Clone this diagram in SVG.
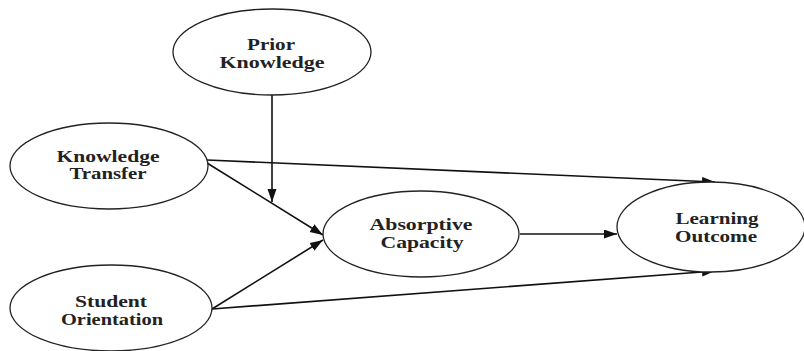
<svg xmlns="http://www.w3.org/2000/svg" width="804" height="351" viewBox="0 0 804 351">
<style>
.n{fill:#fff;stroke:#222;stroke-width:1.3}
.t{font-family:"Liberation Serif","Times New Roman",serif;font-weight:bold;font-size:16px;fill:#222;text-anchor:middle}
.c{stroke:#111;stroke-width:1.6;fill:none;marker-end:url(#ah)}
</style>
<defs>
<marker id="ah" markerUnits="userSpaceOnUse" markerWidth="14" markerHeight="10" refX="13" refY="4.5" orient="auto">
<path d="M0,0 L13,4.5 L0,9 z" fill="#111"/>
</marker>
</defs>
<rect width="804" height="351" fill="#fff"/>
<g id="connectors">
<line class="c" x1="272" y1="95" x2="272" y2="202"/>
<line class="c" x1="207" y1="163" x2="323" y2="235"/>
<line class="c" x1="207" y1="160" x2="715" y2="182"/>
<line class="c" x1="212" y1="309" x2="323" y2="240"/>
<line class="c" x1="212" y1="309" x2="715" y2="271"/>
<line class="c" x1="520" y1="234" x2="617" y2="234"/>
</g>
<g id="prior">
<ellipse class="n" cx="272" cy="52" rx="99" ry="43"/>
<text class="t" x="271" y="50" textLength="48" lengthAdjust="spacingAndGlyphs">Prior</text>
<text class="t" x="272" y="68" textLength="105" lengthAdjust="spacingAndGlyphs">Knowledge</text>
</g>
<g id="transfer">
<ellipse class="n" cx="109" cy="166" rx="99" ry="43"/>
<text class="t" x="108" y="162" textLength="103" lengthAdjust="spacingAndGlyphs">Knowledge</text>
<text class="t" x="108" y="179" textLength="77" lengthAdjust="spacingAndGlyphs">Transfer</text>
</g>
<g id="student">
<ellipse class="n" cx="111" cy="308" rx="101" ry="43"/>
<text class="t" x="111" y="307" textLength="72" lengthAdjust="spacingAndGlyphs">Student</text>
<text class="t" x="112" y="325" textLength="102" lengthAdjust="spacingAndGlyphs">Orientation</text>
</g>
<g id="absorptive">
<ellipse class="n" cx="421" cy="234" rx="98" ry="43"/>
<text class="t" x="421" y="230" textLength="103" lengthAdjust="spacingAndGlyphs">Absorptive</text>
<text class="t" x="422" y="248" textLength="83" lengthAdjust="spacingAndGlyphs">Capacity</text>
</g>
<g id="learning">
<ellipse class="n" cx="711" cy="227" rx="94" ry="45"/>
<text class="t" x="717" y="224" textLength="83" lengthAdjust="spacingAndGlyphs">Learning</text>
<text class="t" x="716" y="242" textLength="82" lengthAdjust="spacingAndGlyphs">Outcome</text>
</g>
</svg>
